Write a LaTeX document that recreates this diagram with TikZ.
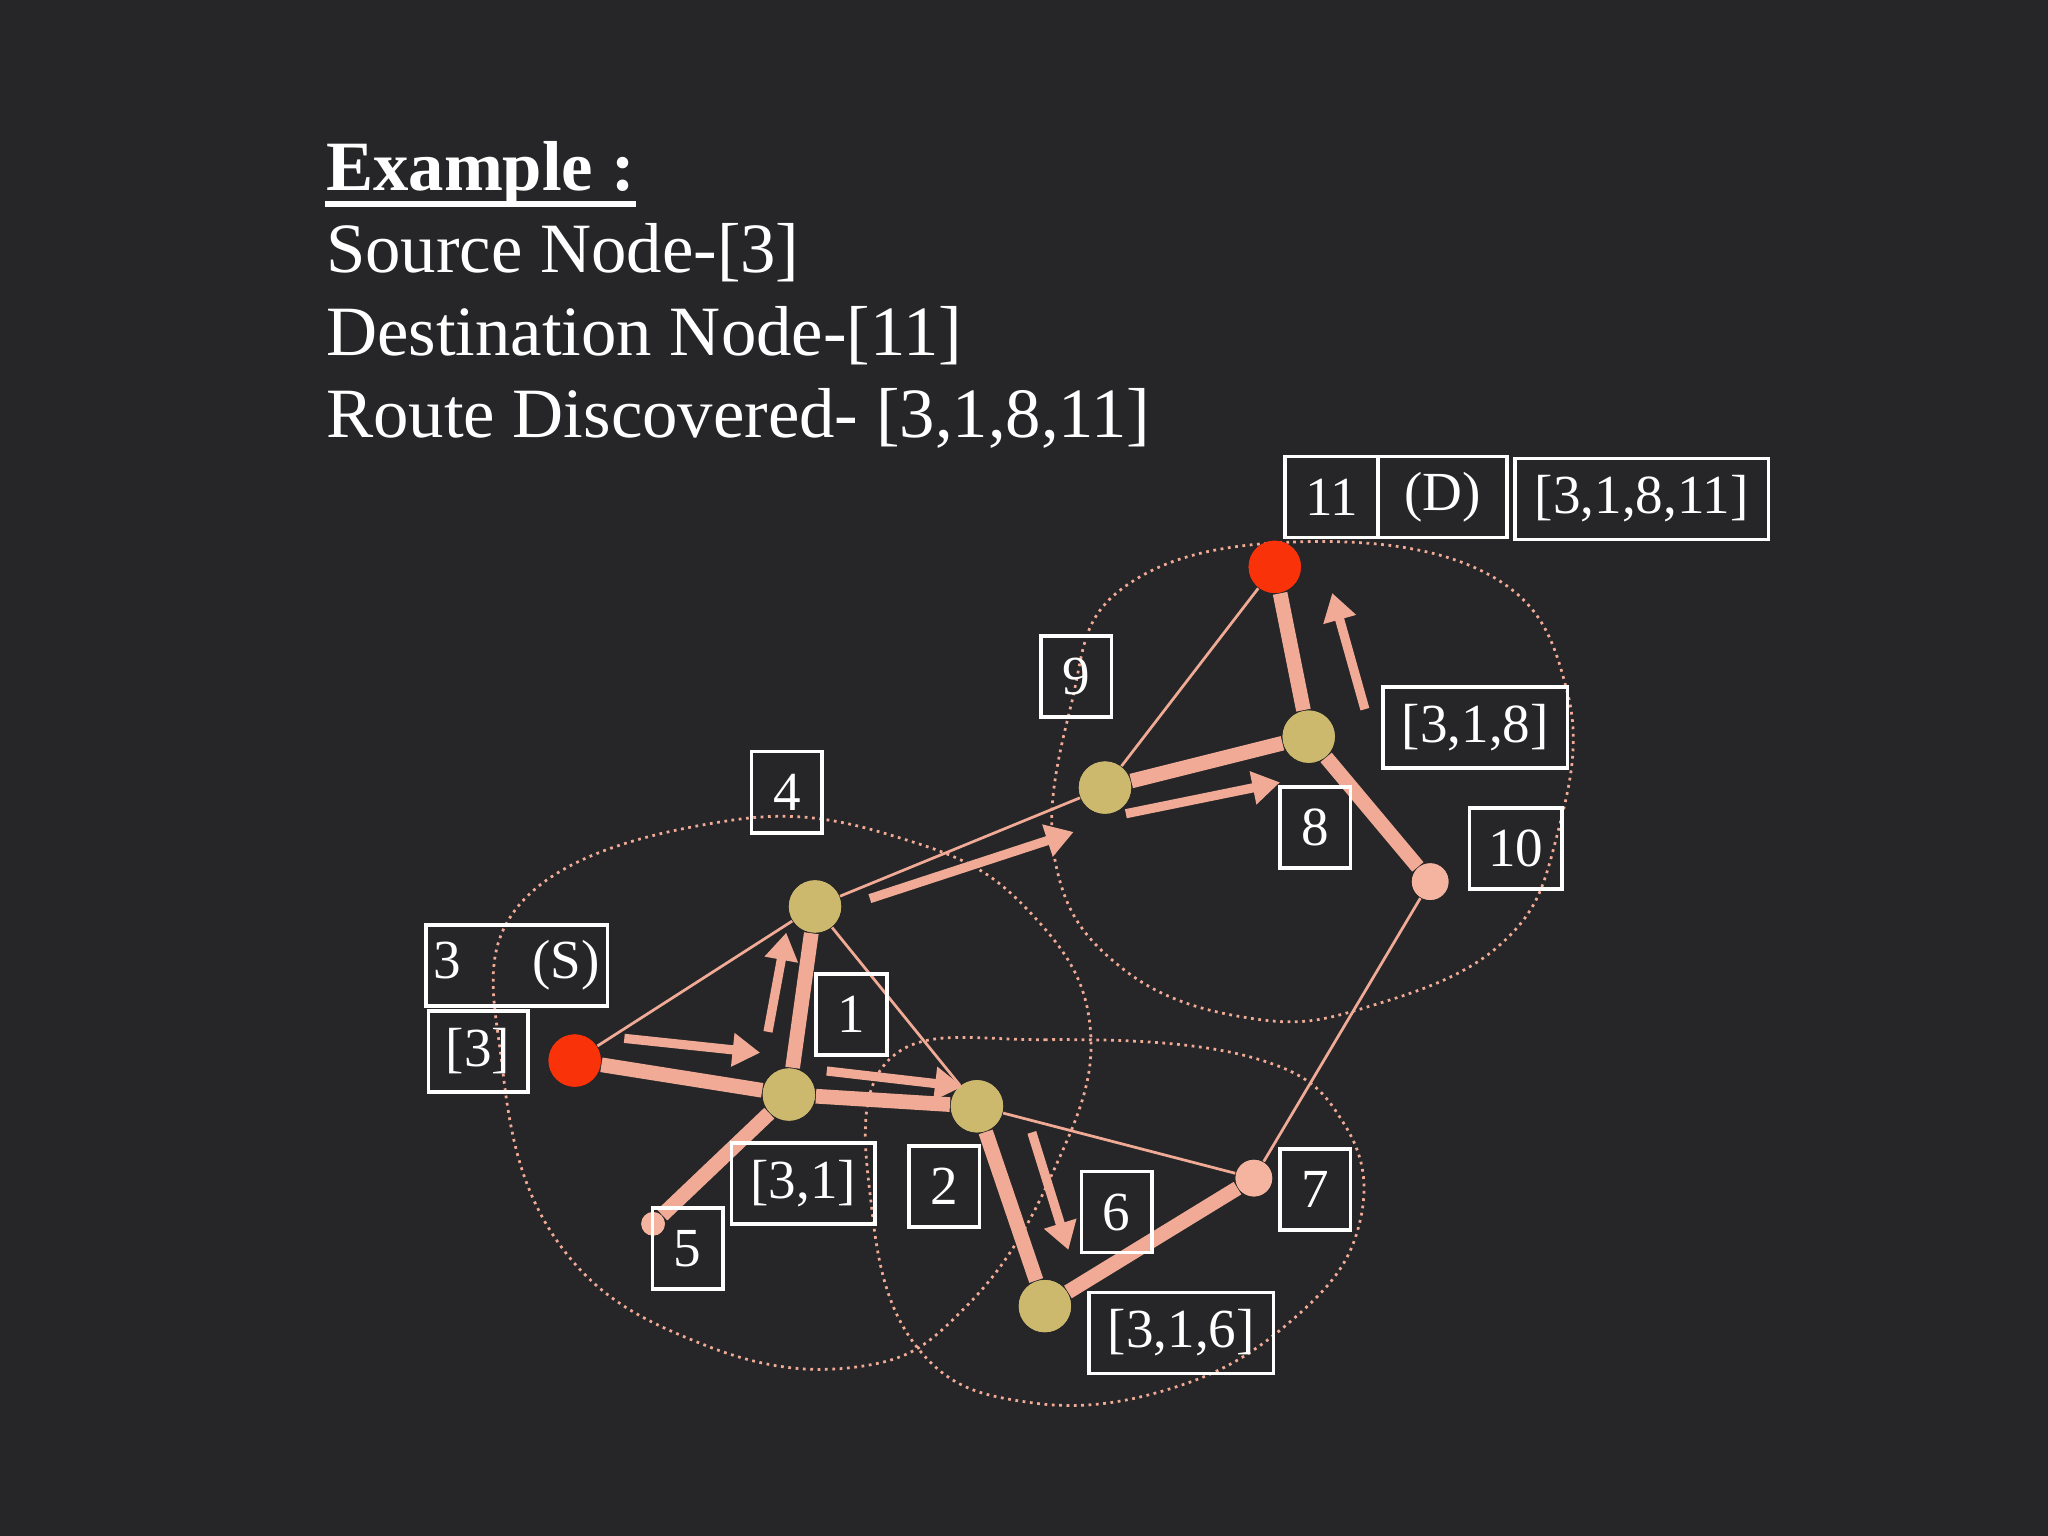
\documentclass[tikz,border=0pt]{standalone}
\usepackage{fontspec}
\setmainfont{Liberation Serif}
\usetikzlibrary{arrows.meta}
\definecolor{bg}{RGB}{38,38,40}
\definecolor{sal}{RGB}{240,170,150}
\definecolor{yel}{RGB}{205,185,110}
\definecolor{rd}{RGB}{250,50,10}
\definecolor{pk}{RGB}{245,180,160}
\tikzset{
 tb/.style={draw=white,line width=0.8pt,text=white,font=\fontsize{12}{12}\selectfont,inner sep=0pt,minimum height=0.62cm,minimum width=0.54cm},
 yn/.style={circle,fill=yel,inner sep=0pt,minimum size=0.4cm},
 rn/.style={circle,fill=rd,inner sep=0pt,minimum size=0.4cm},
 pn/.style={circle,fill=pk,inner sep=0pt,minimum size=0.28cm},
 thick edge/.style={draw=sal,line width=3.2pt},
 thin edge/.style={draw=sal,line width=0.6pt},
 arr/.style={draw=sal,line width=2pt,-{Triangle[length=6pt,width=7pt]}},
 blob/.style={draw=sal,line width=0.6pt,densely dotted},
 ttl/.style={anchor=base west,text=white,inner sep=0pt,font=\fontsize{15.4}{15.4}\selectfont}
}
\begin{document}
\begin{tikzpicture}[x=0.01cm,y=-0.01cm]
\fill[bg] (0,0) rectangle (1568,1176);
\useasboundingbox (0,0) rectangle (1568,1176);
% title
\node[ttl,font=\fontsize{15.4}{15.4}\selectfont\bfseries] (t0) at (249,146) {Example :};
\draw[white,line width=1.2pt] ([yshift=-0.1cm]t0.base west) -- ([yshift=-0.1cm]t0.base east);
\node[ttl] (t1) at (249,209) {Source Node-[3]};
\node[ttl] (t2) at (249,272) {Destination Node-[11]};
\node[ttl] (t3) at (249,335) {Route Discovered- [3,1,8,11]};
% blobs
\draw[blob] plot[smooth cycle,tension=0.7] coordinates {(400,690)(560,628)(700,645)(790,700)(835,790)(805,900)(740,1000)(660,1046)(540,1030)(430,955)(385,820)};
\draw[blob] plot[smooth cycle,tension=0.7] coordinates {(680,812)(800,796)(960,810)(1030,862)(1040,940)(990,1010)(900,1062)(790,1074)(705,1035)(668,930)};
\draw[blob] plot[smooth cycle,tension=0.7] coordinates {(860,450)(990,415)(1140,440)(1200,530)(1192,640)(1150,722)(1050,770)(960,780)(860,742)(808,660)(820,540)};
% nodes
\node[yn] (n1) at (604,838) {};
\node[yn] (n4) at (624,694) {};
\node[yn] (n2) at (748,847) {};
\node[pn,minimum size=0.18cm] (n5) at (500,937) {};
\node[yn] (n6) at (800,1000) {};
\node[pn] (n7) at (960,902) {};
\node[yn] (n9) at (846,603) {};
\node[yn] (n8) at (1002,564) {};
\node[pn] (n10) at (1095,675) {};
\node[rn] (n3) at (440,812) {};
\node[rn] (n11) at (976,434) {};
% edges
\draw[thin edge] (n3)--(n4) (n4)--(n2) (n4)--(n9) (n2)--(n7) (n7)--(n10) (n9)--(n11);
\draw[thick edge] (n3)--(n1) (n1)--(n4) (n1)--(n2) (n2)--(n6) (n6)--(n7) (n9)--(n8) (n8)--(n11) (n8)--(n10) (n1)--(n5);
% redraw nodes on top
\node[yn] at (n1) {};\node[yn] at (n4) {};\node[yn] at (n2) {};\node[pn,minimum size=0.18cm] at (n5) {};
\node[yn] at (n6) {};\node[pn] at (n7) {};\node[yn] at (n9) {};\node[yn] at (n8) {};\node[pn] at (n10) {};
\node[rn] at (n3) {};\node[rn] at (n11) {};
% arrows
\coordinate (a1s) at (478,795); \coordinate (a1e) at (582,806);
\coordinate (a2s) at (588,790); \coordinate (a2e) at (602,714);
\coordinate (a3s) at (633,820); \coordinate (a3e) at (737,832);
\coordinate (a4s) at (666,688); \coordinate (a4e) at (822,637);
\coordinate (a5s) at (862,623); \coordinate (a5e) at (980,599);
\coordinate (a6s) at (1045,543); \coordinate (a6e) at (1020,454);
\coordinate (a7s) at (790,867); \coordinate (a7e) at (818,957);
\foreach \i in {1,...,7} \draw[arr] (a\i s)--(a\i e);
% label boxes
\node[tb,minimum width=1.39cm] (b3s) at (395.5,739) {3\hspace{0.55cm}(S)};
\node[tb,minimum width=0.76cm] (b3r) at (366,805) {[3]};
\node[tb] (b4) at (602.5,606.5) {4};
\node[tb] (b1) at (652,776.5) {1};
\node[tb,minimum width=1.1cm] (b31) at (615,906) {[3,1]};
\node[tb] (b2) at (723,908.5) {2};
\node[tb] (b5) at (526.5,956) {5};
\node[tb] (b6) at (855,928) {6};
\node[tb] (b7) at (1007,910.5) {7};
\node[tb,minimum width=1.41cm] (b316) at (904.5,1020.5) {[3,1,6]};
\node[tb] (b9) at (824,518) {9};
\node[tb] (b8) at (1007,633.5) {8};
\node[tb,minimum width=1.41cm] (b318) at (1129.5,557) {[3,1,8]};
\node[tb,minimum width=0.71cm] (b10) at (1160.5,649.5) {10};
\node[tb,minimum width=0.71cm] (b11) at (1019.5,380.5) {11};
\node[tb,minimum width=0.99cm] (bD) at (1104.5,380.5) {(D)};
\node[tb,minimum width=1.94cm] (b3181) at (1257,382) {[3,1,8,11]};
\end{tikzpicture}
\end{document}
